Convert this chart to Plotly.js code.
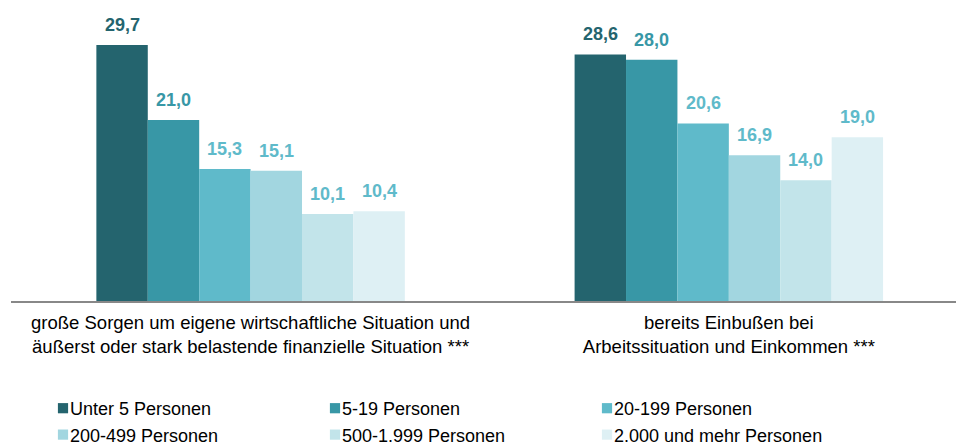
<!DOCTYPE html>
<html>
<head>
<meta charset="utf-8">
<script src="https://cdn.plot.ly/plotly-3.0.1.min.js"></script>
<style>
html,body{margin:0;padding:0;background:#fff;}
#chart{width:956px;height:443px;}
#chart .legendpoints path{transform:translate(33px,0px) scale(0.85);}
</style>
</head>
<body>
<div id="chart"></div>
<script>
const categories = [
  "große Sorgen um eigene wirtschaftliche Situation und<br>äußerst oder stark belastende finanzielle Situation ***",
  "bereits Einbußen bei<br>Arbeitssituation und Einkommen ***"
];
const seriesNames = ["Unter 5 Personen", "5-19 Personen", "20-199 Personen", "200-499 Personen", "500-1.999 Personen", "2.000 und mehr Personen"];
const unter5 = [29.7, 28.6];
const p5_19 = [21.0, 28.0];
const p20_199 = [15.3, 20.6];
const p200_499 = [15.1, 16.9];
const p500_1999 = [10.1, 14.0];
const p2000plus = [10.4, 19.0];

const seriesValues = [unter5, p5_19, p20_199, p200_499, p500_1999, p2000plus];
const barColors = ["#24646E", "#3897A6", "#5FBACA", "#A2D6E0", "#C2E4EA", "#DEF0F4"];
const labelColors = ["#24646E", "#3897A6", "#5FBACA", "#5FBACA", "#5FBACA", "#5FBACA"];

const FONT = "Liberation Sans, Arial, sans-serif";
const bargap = 0.355;
const xIdx = categories.map((c, i) => i);

const traces = seriesValues.map((vals, k) => ({
  type: "bar",
  name: seriesNames[k],
  x: xIdx,
  y: vals,
  marker: {color: barColors[k], line: {width: 0}},
  hoverinfo: "skip"
}));

// value labels placed over each grouped bar
const nS = seriesValues.length;
const w = (1 - bargap) / nS;
const annotations = [];
seriesValues.forEach((vals, k) => {
  vals.forEach((v, i) => {
    annotations.push({
      x: i - (1 - bargap) / 2 + (k + 0.5) * w,
      y: v,
      xref: "x", yref: "y",
      yanchor: "bottom",
      yshift: 8,
      showarrow: false,
      text: v.toFixed(1).replace(".", ","),
      font: {family: FONT, size: 18, color: labelColors[k], weight: "bold"}
    });
  });
});

const layout = {
  width: 956, height: 443,
  margin: {l: 11, r: 0, t: 0, b: 142},
  paper_bgcolor: "#fff", plot_bgcolor: "#fff",
  barmode: "group", bargap: bargap, bargroupgap: 0,
  showlegend: true,
  font: {family: FONT, size: 18, color: "#000"},
  xaxis: {
    range: [-0.501, 1.475],
    tickvals: xIdx, ticktext: categories,
    showline: true, linecolor: "#888", linewidth: 2,
    ticks: "", showgrid: false, zeroline: false,
    ticklabelstandoff: 4,
    tickfont: {family: FONT, size: 18.5, color: "#000"},
    fixedrange: true
  },
  yaxis: {
    range: [0, 34.92],
    showticklabels: false, showgrid: false, zeroline: false, showline: false, ticks: "",
    fixedrange: true
  },
  legend: {
    orientation: "h",
    xref: "container", yref: "container",
    x: 30 / 956, xanchor: "left",
    y: 53 / 443, yanchor: "top",
    entrywidth: 227, entrywidthmode: "pixels",
    font: {family: FONT, size: 18, color: "#000"},
    traceorder: "normal",
    itemclick: false, itemdoubleclick: false
  },
  annotations: annotations
};

Plotly.newPlot("chart", traces, layout, {displayModeBar: false, staticPlot: true});
</script>
</body>
</html>
